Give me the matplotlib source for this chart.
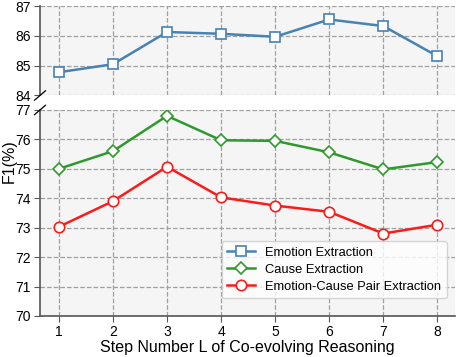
import numpy as np
import matplotlib
matplotlib.use("Agg")
import matplotlib.pyplot as plt

plt.rcParams["font.family"] = ["Liberation Sans", "DejaVu Sans"]

steps = [1, 2, 3, 4, 5, 6, 7, 8]
emotion = [84.78, 85.05, 86.13, 86.07, 85.97, 86.55, 86.33, 85.32]
cause = [75.0, 75.6, 76.8, 75.97, 75.95, 75.56, 74.98, 75.23]
pair = [73.03, 73.9, 75.07, 74.03, 73.75, 73.54, 72.8, 73.1]

BLUE = "#4682B4"
GREEN = "#2E9A2E"
RED = "#FF1A1A"
SPINE = "#555555"
BG = "#F5F5F5"

fig = plt.figure(figsize=(4.57, 3.57), dpi=100)
ax_top = fig.add_axes([0.0875, 0.7325, 0.9085, 0.2505])
ax_bot = fig.add_axes([0.0875, 0.115, 0.9085, 0.577])

mk = dict(markerfacecolor="white", markersize=7.5, markeredgewidth=1.2, linewidth=1.8)
for ax in (ax_top, ax_bot):
    ax.plot(steps, emotion, "-s", color=BLUE, markeredgecolor=BLUE, label="Emotion Extraction", **mk)
    ax.plot(steps, cause, "-D", color=GREEN, markeredgecolor=GREEN, label="Cause Extraction",
            **{**mk, "markersize": 6.5})
    ax.plot(steps, pair, "-o", color=RED, markeredgecolor=RED, label="Emotion-Cause Pair Extraction", **mk)
    ax.set_facecolor(BG)
    ax.grid(True, linestyle="--", color="#A0A0A0", linewidth=0.9)
    ax.set_axisbelow(True)
    ax.set_xlim(0.65, 8.33)
    for s in ("top", "right", "bottom"):
        ax.spines[s].set_visible(False)
    ax.spines["left"].set_color(SPINE)
    ax.spines["left"].set_linewidth(1.2)
    ax.tick_params(axis="both", colors=SPINE, labelcolor="black", labelsize=10, length=4, pad=2.5)
    ax.set_xticks(steps)

ax_top.set_ylim(84, 87)
ax_top.set_yticks([84, 85, 86, 87])
ax_top.tick_params(axis="x", bottom=False, labelbottom=False)

ax_bot.set_ylim(70, 77)
ax_bot.set_yticks([70, 71, 72, 73, 74, 75, 76, 77])
ax_bot.spines["bottom"].set_visible(True)
ax_bot.spines["bottom"].set_color(SPINE)
ax_bot.spines["bottom"].set_linewidth(1.2)
ax_bot.set_xlabel("Step Number L of Co-evolving Reasoning", fontsize=11.5, labelpad=1)

# break marks on the left spine
d = 0.012
kw = dict(transform=fig.transFigure, color="black", linewidth=0.9, clip_on=False)
for y in (0.7325, 0.692):
    fig.add_artist(plt.Line2D([0.0875 - d, 0.0875 + d], [y - d * 1.1, y + d * 1.1], **kw))

fig.text(0.02, 0.55, "F1(%)", rotation=90, fontsize=11.5, ha="center", va="center")

leg = ax_bot.legend(loc="lower right", bbox_to_anchor=(0.995, 0.055), fontsize=9.3,
                    frameon=True, fancybox=True, handlelength=2.2, borderpad=0.4,
                    labelspacing=0.4)
leg.get_frame().set_facecolor("white")
leg.get_frame().set_edgecolor("#CCCCCC")

fig.savefig("out.png", dpi=100)
